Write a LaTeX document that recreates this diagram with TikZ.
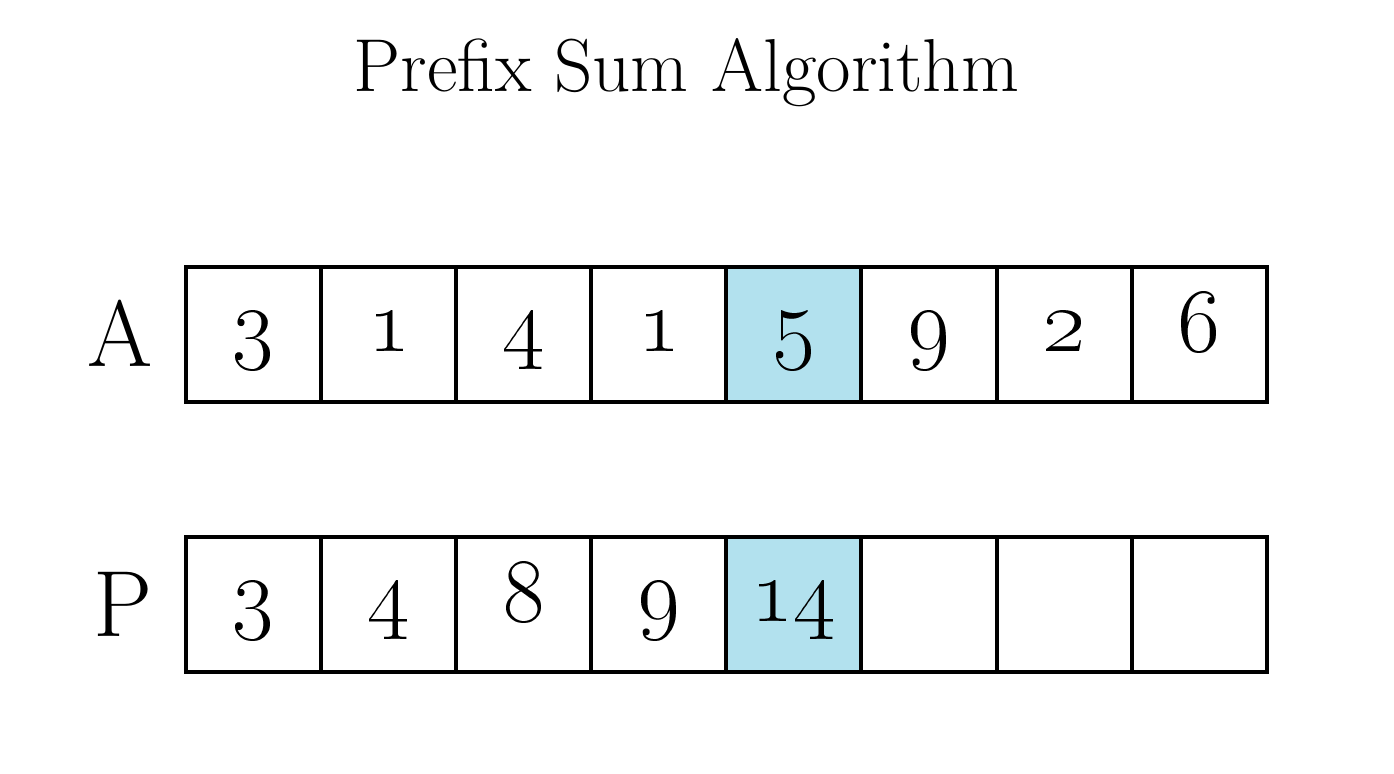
\RequirePackage{fix-cm}
\documentclass[tikz,border=0pt]{standalone}
\usepackage{amsmath}
\usepackage{tikz}

\definecolor{hilite}{RGB}{178,225,238}

\tikzset{
  cellbox/.style={draw, line width=2pt, minimum size=67.55pt, inner sep=0pt,
    outer sep=0pt, font=\fontsize{46}{52}\selectfont,
    text height=17.5pt, text depth=0pt},
  rowlabel/.style={font=\fontsize{47}{52}\selectfont, inner sep=0pt,
    anchor=base east},
  heading/.style={font=\fontsize{37.5}{44}\selectfont, inner sep=0pt,
    anchor=base}
}

\begin{document}
\begin{tikzpicture}[x=67.55pt,y=67.55pt]

\useasboundingbox (-1.377,-0.755) rectangle (8.942,4.974);

\node [heading] (title) at (3.705,4.293) {Prefix Sum Algorithm};

\node [rowlabel] (labA) at (-0.244,2.26) {A};
\node [rowlabel] (labP) at (-0.244,0.266) {P};

% array A
\node [cellbox] (a1) at (0.5,2.5) {\oldstylenums{3}};
\node [cellbox] (a2) at (1.5,2.5) {\oldstylenums{1}};
\node [cellbox] (a3) at (2.5,2.5) {\oldstylenums{4}};
\node [cellbox] (a4) at (3.5,2.5) {\oldstylenums{1}};
\node [cellbox, fill=hilite] (a5) at (4.5,2.5) {\oldstylenums{5}};
\node [cellbox] (a6) at (5.5,2.5) {\oldstylenums{9}};
\node [cellbox] (a7) at (6.5,2.5) {\oldstylenums{2}};
\node [cellbox] (a8) at (7.5,2.5) {\oldstylenums{6}};

% prefix sums P
\node [cellbox] (p1) at (0.5,0.5) {\oldstylenums{3}};
\node [cellbox] (p2) at (1.5,0.5) {\oldstylenums{4}};
\node [cellbox] (p3) at (2.5,0.5) {\oldstylenums{8}};
\node [cellbox] (p4) at (3.5,0.5) {\oldstylenums{9}};
\node [cellbox, fill=hilite] (p5) at (4.5,0.5) {\oldstylenums{14}};
\node [cellbox] (p6) at (5.5,0.5) {};
\node [cellbox] (p7) at (6.5,0.5) {};
\node [cellbox] (p8) at (7.5,0.5) {};

\end{tikzpicture}
\end{document}
